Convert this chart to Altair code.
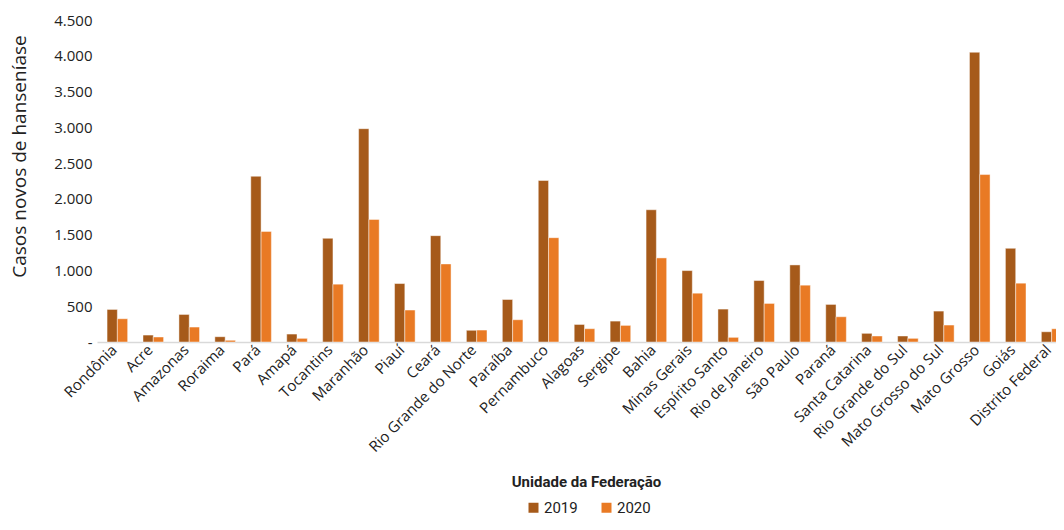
import altair as alt
import pandas as pd

states = ["Rondônia", "Acre", "Amazonas", "Roraima", "Pará", "Amapá", "Tocantins",
          "Maranhão", "Piauí", "Ceará", "Rio Grande do Norte", "Paraíba", "Pernambuco",
          "Alagoas", "Sergipe", "Bahia", "Minas Gerais", "Espírito Santo",
          "Rio de Janeiro", "São Paulo", "Paraná", "Santa Catarina",
          "Rio Grande do Sul", "Mato Grosso do Sul", "Mato Grosso", "Goiás",
          "Distrito Federal"]
cases_2019 = [455, 97, 385, 74, 2316, 111, 1449, 2981, 817, 1486, 163, 594, 2257,
              246, 292, 1848, 998, 460, 859, 1077, 525, 121, 84, 432, 4049, 1309, 143]
cases_2020 = [325, 70, 209, 24, 1546, 51, 808, 1713, 446, 1091, 167, 311, 1458,
              186, 232, 1175, 682, 65, 539, 794, 353, 84, 51, 237, 2340, 822, 185]
years = ["2019", "2020"]
colors = ["#A65A1A", "#E97A24"]
y_ticks = [0, 500, 1000, 1500, 2000, 2500, 3000, 3500, 4000, 4500]

rows = []
for s, a, b in zip(states, cases_2019, cases_2020):
    rows.append({"uf": s, "ano": "2019", "casos": a})
    rows.append({"uf": s, "ano": "2020", "casos": b})
df = pd.DataFrame(rows)

chart = alt.Chart(df).mark_bar(
    stroke="#ffffff", strokeOpacity=0.45, strokeWidth=1
).encode(
    x=alt.X("uf:N", sort=states,
            scale=alt.Scale(paddingInner=0.427, paddingOuter=0.28),
            axis=alt.Axis(title="Unidade da Federação", labelAngle=-45,
                          labelAlign="right", labelBaseline="middle",
                          labelFont="Open Sans", labelFontSize=15, labelColor="#222222",
                          labelPadding=5, labelOffset=-3, ticks=False, labelOverlap=False,
                          domainColor="#d9d9d9", domainWidth=1.5,
                          titleFont="Roboto", titleFontWeight="bold", titleFontSize=15,
                          titleColor="#222222", titleX=489, titleY=139,
                          titleBaseline="middle")),
    xOffset=alt.XOffset("ano:N", scale=alt.Scale(paddingInner=0, paddingOuter=0)),
    y=alt.Y("casos:Q", scale=alt.Scale(domain=[0, 4500], nice=False),
            axis=alt.Axis(title="Casos novos de hanseníase", values=y_ticks,
                          labelExpr="datum.value == 0 ? '-' : replace(format(datum.value, ','), ',', '.')",
                          labelFont="Open Sans", labelFontSize=15, labelColor="#222222",
                          labelPadding=5, ticks=False, domain=False, grid=False,
                          labelOverlap=False,
                          titleFont="Open Sans", titleFontSize=19, titleFontWeight="normal",
                          titleColor="#222222", titleX=-78, titleY=136,
                          titleAlign="center", titleBaseline="middle", titleAngle=-90)),
    color=alt.Color("ano:N", scale=alt.Scale(domain=years, range=colors),
                    legend=alt.Legend(title=None, orient="none", direction="horizontal",
                                      legendX=429, legendY=480,
                                      symbolType="square", symbolSize=100,
                                      symbolStrokeWidth=0, labelFont="Roboto",
                                      labelFontSize=15, labelColor="#222222",
                                      labelOffset=3, columnPadding=21, padding=0)),
).properties(
    width=975, height=322,
    autosize=alt.AutoSizeParams(type="none"),
    padding={"left": 89, "top": 12, "right": -16, "bottom": 176}
).configure_view(stroke=None).configure_axis(grid=False)

chart.save("out.html", embed_options={"renderer": "svg", "actions": False})
